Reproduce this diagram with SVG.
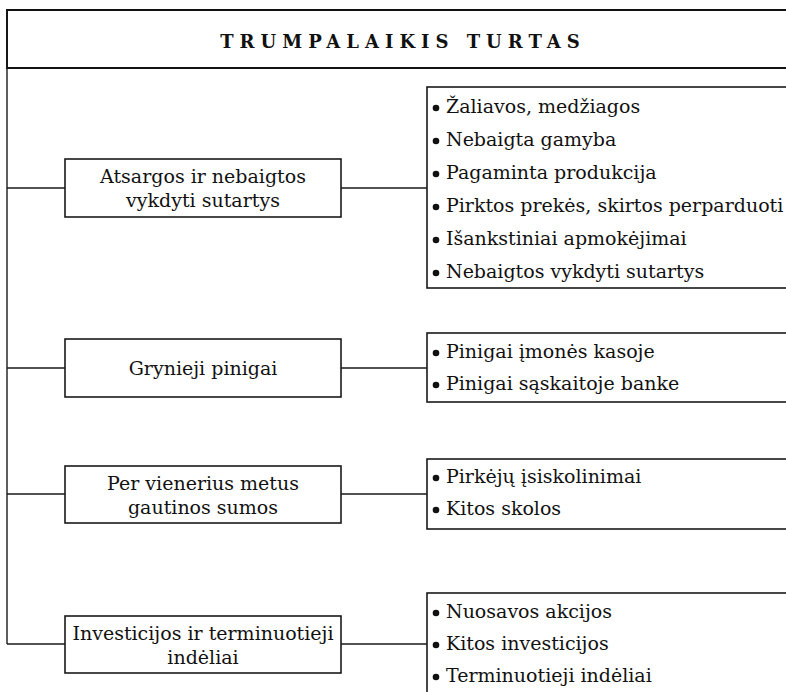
<svg xmlns="http://www.w3.org/2000/svg" width="786" height="692" viewBox="0 0 786 692">
  <style>
    .line{fill:none;stroke:#1a1a1a;stroke-width:1.4}
    .box{fill:#fff;stroke:#1a1a1a;stroke-width:1.6}
    .t{font-size:19px}
    .c{text-anchor:middle}
    .title{font-weight:bold;font-size:18px;letter-spacing:6px;text-anchor:middle}
    .dot{fill:#111}
  </style>
  <rect width="786" height="692" fill="#fff"/>

  <g font-family="DejaVu Serif, Liberation Serif, serif" fill="#111">
  <!-- heading band -->
  <g id="heading">
    <path d="M790,10H7V68H790" fill="none" stroke="#111" stroke-width="2"/>
    <text class="title" x="403" y="48">TRUMPALAIKIS TURTAS</text>
  </g>

  <!-- trunk and branch connectors -->
  <g id="connectors" class="line">
    <path d="M7,10V644"/>
    <path d="M7,188H65M341,188H427"/>
    <path d="M7,368H65M341,368H427"/>
    <path d="M7,494H65M341,494H427"/>
    <path d="M7,644H65M341,644H427"/>
  </g>

  <!-- category boxes -->
  <g id="atsargos">
    <rect class="box" x="65" y="159" width="276" height="58"/>
    <text class="t c" x="203" y="183">Atsargos ir nebaigtos</text>
    <text class="t c" x="203" y="207">vykdyti sutartys</text>
  </g>
  <g id="grynieji">
    <rect class="box" x="65" y="339" width="276" height="58"/>
    <text class="t c" x="203" y="375">Grynieji pinigai</text>
  </g>
  <g id="gautinos">
    <rect class="box" x="65" y="466" width="276" height="57"/>
    <text class="t c" x="203" y="489.5">Per vienerius metus</text>
    <text class="t c" x="203" y="513.5">gautinos sumos</text>
  </g>
  <g id="investicijos">
    <rect class="box" x="65" y="616" width="276" height="57"/>
    <text class="t c" x="203" y="639.5">Investicijos ir terminuotieji</text>
    <text class="t c" x="203" y="663.5">indėliai</text>
  </g>

  <!-- item lists -->
  <g id="atsargos-items">
    <rect class="box" x="427" y="87" width="400" height="201"/>
    <circle class="dot" cx="436" cy="108" r="3.3"/>
    <text class="t" x="446" y="113">Žaliavos, medžiagos</text>
    <circle class="dot" cx="436" cy="141" r="3.3"/>
    <text class="t" x="446" y="146">Nebaigta gamyba</text>
    <circle class="dot" cx="436" cy="174" r="3.3"/>
    <text class="t" x="446" y="179">Pagaminta produkcija</text>
    <circle class="dot" cx="436" cy="207" r="3.3"/>
    <text class="t" x="446" y="212">Pirktos prekės, skirtos perparduoti</text>
    <circle class="dot" cx="436" cy="240" r="3.3"/>
    <text class="t" x="446" y="245">Išankstiniai apmokėjimai</text>
    <circle class="dot" cx="436" cy="273" r="3.3"/>
    <text class="t" x="446" y="278">Nebaigtos vykdyti sutartys</text>
  </g>
  <g id="grynieji-items">
    <rect class="box" x="427" y="333" width="400" height="69"/>
    <circle class="dot" cx="436" cy="353" r="3.3"/>
    <text class="t" x="446" y="358">Pinigai įmonės kasoje</text>
    <circle class="dot" cx="436" cy="385" r="3.3"/>
    <text class="t" x="446" y="390">Pinigai sąskaitoje banke</text>
  </g>
  <g id="gautinos-items">
    <rect class="box" x="427" y="459" width="400" height="70"/>
    <circle class="dot" cx="436" cy="478" r="3.3"/>
    <text class="t" x="446" y="483">Pirkėjų įsiskolinimai</text>
    <circle class="dot" cx="436" cy="510" r="3.3"/>
    <text class="t" x="446" y="515">Kitos skolos</text>
  </g>
  <g id="investicijos-items">
    <rect class="box" x="427" y="593" width="400" height="200"/>
    <circle class="dot" cx="436" cy="613" r="3.3"/>
    <text class="t" x="446" y="618">Nuosavos akcijos</text>
    <circle class="dot" cx="436" cy="645" r="3.3"/>
    <text class="t" x="446" y="650">Kitos investicijos</text>
    <circle class="dot" cx="436" cy="677" r="3.3"/>
    <text class="t" x="446" y="682">Terminuotieji indėliai</text>
  </g>
  </g>
</svg>
